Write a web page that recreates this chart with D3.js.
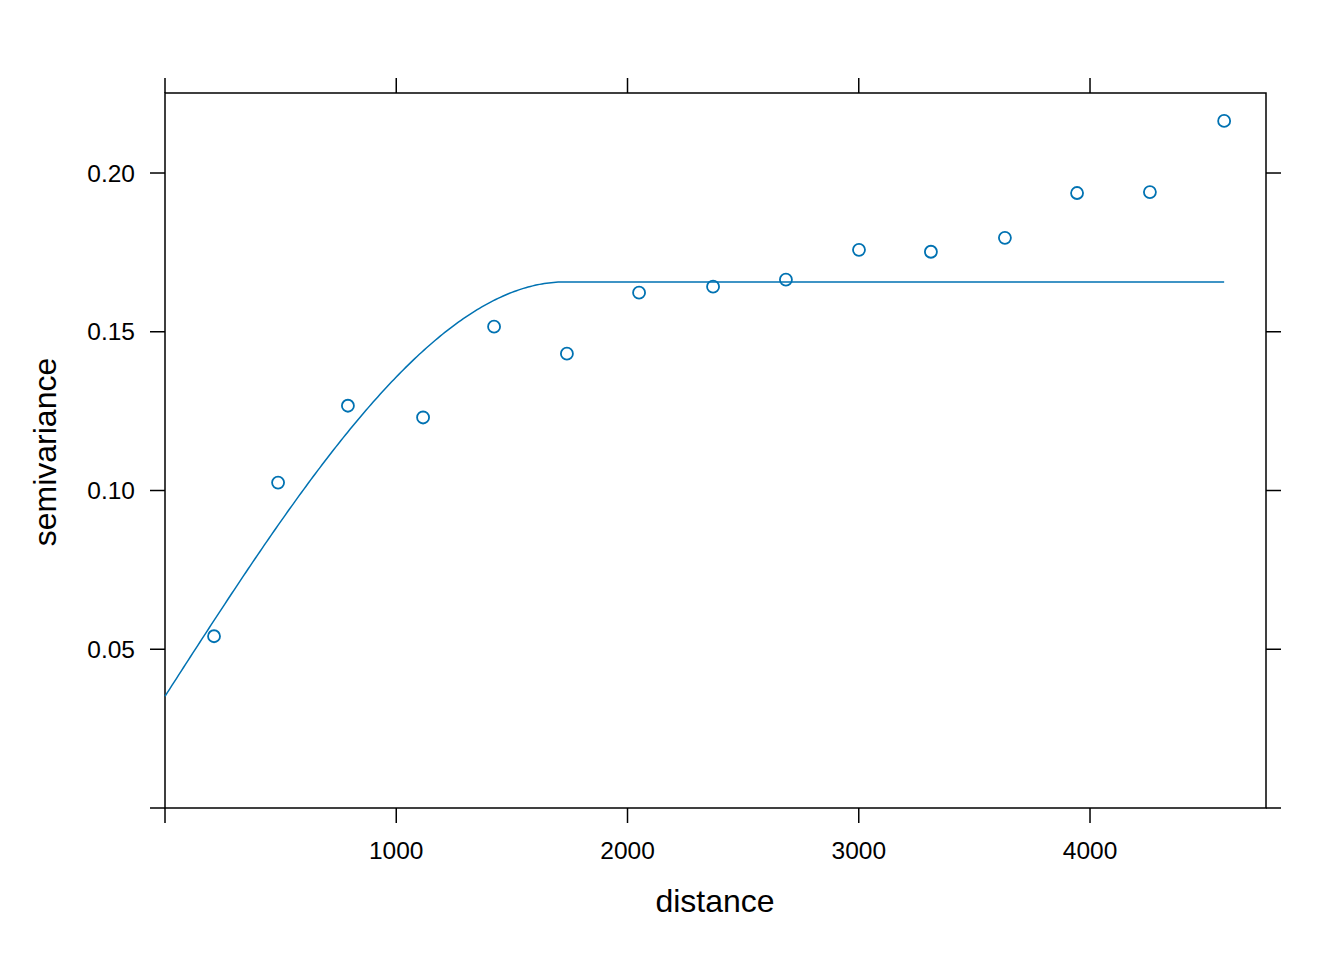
<!DOCTYPE html>
<html><head><meta charset="utf-8">
<script src="https://cdn.jsdelivr.net/npm/d3@7"></script>
<style>body{margin:0;background:#fff}text{font-family:"Liberation Sans",Arial,sans-serif}</style>
</head><body><svg id="c" width="1344" height="960"></svg>
<script>
const dist = [212,489,791,1116,1423,1738,2050,2370,2685,3001,3312,3632,3944,4259,4580];
const gamma = [0.0541,0.1025,0.1267,0.1230,0.1516,0.1431,0.1623,0.1642,0.1664,0.1758,0.1752,0.1796,0.1937,0.1940,0.2164];
const modelNugget = 0.0352, modelPsill = 0.1305, modelRange = 1730, modelMaxDist = 4580;
const xTicks = [1000,2000,3000,4000];
const yTicks = [0.05,0.10,0.15,0.20];
const xTickLabels = ["1000","2000","3000","4000"];
const yTickLabels = ["0.05","0.10","0.15","0.20"];

const svg = d3.select("#c");
const L=165,R=1266,T=93,B=808;
const x = d3.scaleLinear().domain([0,4761]).range([L,R]);
const y = d3.scaleLinear().domain([0,0.2252]).range([B,T]);
const col="#0072B2";
svg.append("rect").attr("x",L).attr("y",T).attr("width",R-L).attr("height",B-T).attr("fill","none").attr("stroke","#000").attr("stroke-width",1.5);
const xt=[0,...xTicks], yt=[0,...yTicks];
xt.forEach(v=>{
  svg.append("line").attr("x1",x(v)).attr("x2",x(v)).attr("y1",B).attr("y2",B+15).attr("stroke","#000").attr("stroke-width",1.5);
  svg.append("line").attr("x1",x(v)).attr("x2",x(v)).attr("y1",T).attr("y2",T-15).attr("stroke","#000").attr("stroke-width",1.5);
});
yt.forEach(v=>{
  svg.append("line").attr("y1",y(v)).attr("y2",y(v)).attr("x1",L).attr("x2",L-15).attr("stroke","#000").attr("stroke-width",1.5);
  svg.append("line").attr("y1",y(v)).attr("y2",y(v)).attr("x1",R).attr("x2",R+15).attr("stroke","#000").attr("stroke-width",1.5);
});
xTicks.forEach((v,i)=>svg.append("text").attr("x",x(v)).attr("y",859).attr("text-anchor","middle").attr("font-size",24.5).text(xTickLabels[i]));
yTicks.forEach((v,i)=>svg.append("text").attr("x",135).attr("y",y(v)+8.5).attr("text-anchor","end").attr("font-size",24.5).text(yTickLabels[i]));
svg.append("text").attr("x",715).attr("y",912).attr("text-anchor","middle").attr("font-size",32).text("distance");
svg.append("text").attr("transform","translate(56,452) rotate(-90)").attr("text-anchor","middle").attr("font-size",32).text("semivariance");
const model=h=>h>=modelRange?modelNugget+modelPsill:modelNugget+modelPsill*(1.5*h/modelRange-0.5*Math.pow(h/modelRange,3));
const hs=d3.range(0,modelMaxDist+1,10);
svg.append("path").datum(hs).attr("d",d3.line().x(h=>x(h)).y(h=>y(model(h)))).attr("fill","none").attr("stroke",col).attr("stroke-width",1.5);
svg.selectAll("circle").data(dist).enter().append("circle").attr("cx",d=>x(d)).attr("cy",(d,i)=>y(gamma[i])).attr("r",6).attr("fill","none").attr("stroke",col).attr("stroke-width",1.8);
</script></body></html>
